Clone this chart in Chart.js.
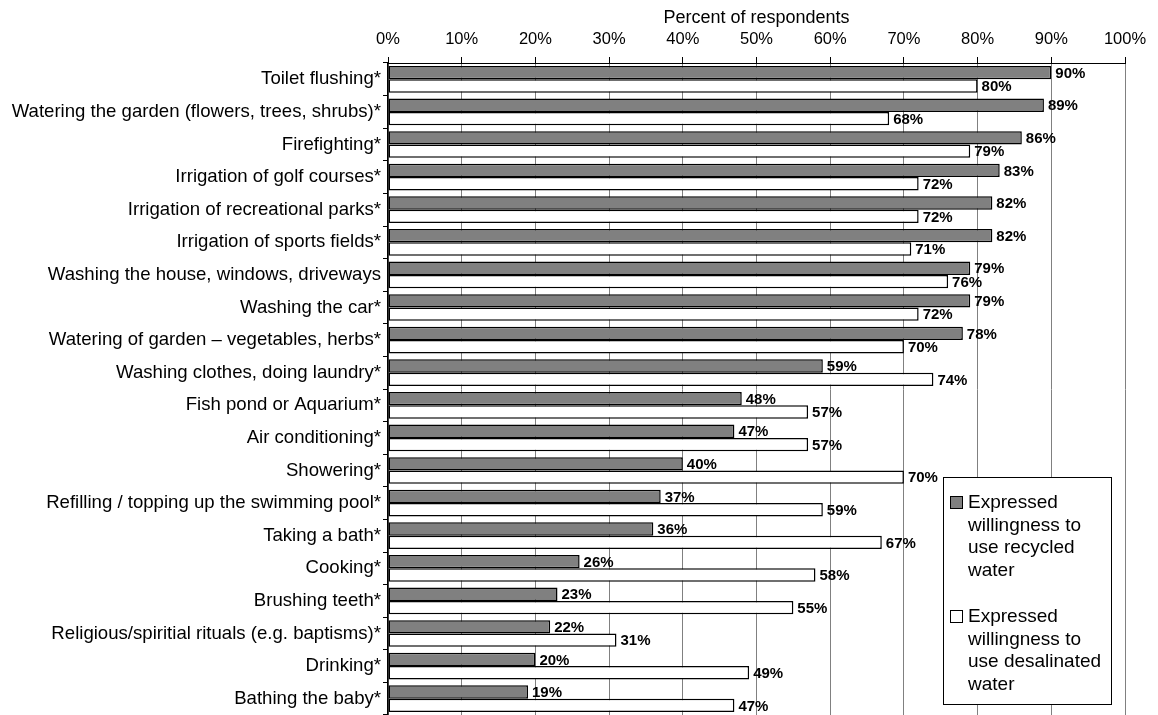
<!DOCTYPE html>
<html>
<head>
<meta charset="utf-8">
<title>Willingness to use recycled and desalinated water</title>
<script src="https://cdn.jsdelivr.net/npm/chart.js@4.4.1/dist/chart.umd.min.js"></script>
<style>
    html, body { margin: 0; padding: 0; background: #fff; }
    #wrap { width: 1158px; height: 715px; }
</style>
</head>
<body>
<div id="wrap"><canvas id="usesChart" width="1158" height="715"></canvas></div>
<script>
// Uses of water, top to bottom
const uses = [
    'Toilet flushing*',
    'Watering the garden (flowers, trees, shrubs)*',
    'Firefighting*',
    'Irrigation of golf courses*',
    'Irrigation of recreational parks*',
    'Irrigation of sports fields*',
    'Washing the house, windows, driveways',
    'Washing the car*',
    'Watering of garden \u2013 vegetables, herbs*',
    'Washing clothes, doing laundry*',
    'Fish pond or Aquarium*',
    'Air conditioning*',
    'Showering*',
    'Refilling / topping up the swimming pool*',
    'Taking a bath*',
    'Cooking*',
    'Brushing teeth*',
    'Religious/spiritial rituals (e.g. baptisms)*',
    'Drinking*',
    'Bathing the baby*'
];

// Percent of respondents willing to use each kind of water
const recycled    = [90, 89, 86, 83, 82, 82, 79, 79, 78, 59, 48, 47, 40, 37, 36, 26, 23, 22, 20, 19];
const desalinated = [80, 68, 79, 72, 72, 71, 76, 72, 70, 74, 57, 57, 70, 59, 67, 58, 55, 31, 49, 47];

const seriesNames = [
    ['Expressed', 'willingness to', 'use recycled', 'water'],
    ['Expressed', 'willingness to', 'use desalinated', 'water']
];

const percentTicks = [0, 10, 20, 30, 40, 50, 60, 70, 80, 90, 100];

const FONT = '"Liberation Sans", Arial, Helvetica, sans-serif';

// Bold value next to the end of every bar
const valueLabels = {
    id: 'valueLabels',
    afterDatasetsDraw(chart) {
        const ctx = chart.ctx;
        ctx.save();
        ctx.font = 'bold 15px ' + FONT;
        ctx.fillStyle = '#000';
        ctx.textAlign = 'left';
        ctx.textBaseline = 'middle';
        chart.data.datasets.forEach((ds, i) => {
            chart.getDatasetMeta(i).data.forEach((bar, j) => {
                ctx.fillText(ds.data[j] + '%', bar.x + 4, bar.y + 1);
            });
        });
        ctx.restore();
    }
};

// Boxed legend sitting inside the plot, lower right
const boxLegend = {
    id: 'boxLegend',
    afterDraw(chart) {
        const ctx = chart.ctx;
        const left = 943, top = 477, w = 168, h = 227;
        ctx.save();
        ctx.fillStyle = '#fff';
        ctx.fillRect(left, top, w, h);
        ctx.strokeStyle = '#000';
        ctx.lineWidth = 1;
        ctx.strokeRect(left + 0.5, top + 0.5, w, h);

        ctx.font = '19px ' + FONT;
        ctx.textAlign = 'left';
        ctx.textBaseline = 'middle';
        const starts = [top + 26, top + 140];
        chart.data.datasets.forEach((ds, i) => {
            const y0 = starts[i];
            ctx.fillStyle = ds.backgroundColor;
            ctx.fillRect(left + 7.5, y0 - 6.5, 12, 12);
            ctx.strokeStyle = '#000';
            ctx.strokeRect(left + 7.5, y0 - 6.5, 12, 12);
            ctx.fillStyle = '#000';
            seriesNames[i].forEach((line, k) => {
                ctx.fillText(line, left + 25, y0 + k * 22.5);
            });
        });
        ctx.restore();
    }
};

const ctx = document.getElementById('usesChart').getContext('2d');
new Chart(ctx, {
    type: 'bar',
    data: {
        labels: uses,
        datasets: [{
            label: seriesNames[0].join(' '),
            data: recycled,
            backgroundColor: '#808080',
            borderColor: '#000',
            borderWidth: 1.5,
            borderSkipped: false,
            categoryPercentage: 0.82,
            barPercentage: 1.0
        }, {
            label: seriesNames[1].join(' '),
            data: desalinated,
            backgroundColor: '#ffffff',
            borderColor: '#000',
            borderWidth: 1.5,
            borderSkipped: false,
            categoryPercentage: 0.82,
            barPercentage: 1.0
        }]
    },
    options: {
        indexAxis: 'y',
        responsive: false,
        animation: false,
        devicePixelRatio: 1,
        layout: { padding: { left: 0, right: 33, top: 0, bottom: 0 } },
        scales: {
            x: {
                position: 'top',
                min: 0,
                max: 100,
                afterBuildTicks(scale) {
                    scale.ticks = percentTicks.map(v => ({ value: v }));
                },
                afterFit(scale) {
                    scale.height = 63;
                    scale.paddingLeft = 0;
                    scale.paddingRight = 0;
                },
                ticks: {
                    callback: v => v + '%',
                    color: '#000',
                    padding: 8,
                    maxRotation: 0,
                    font: { family: FONT, size: 16.5 }
                },
                grid: {
                    color: '#808080',
                    tickColor: '#000',
                    tickLength: 6,
                    lineWidth: 1
                },
                border: { color: '#000', width: 1 },
                title: {
                    display: true,
                    text: 'Percent of respondents',
                    color: '#000',
                    padding: { top: 7, bottom: 0 },
                    font: { family: FONT, size: 18 }
                }
            },
            y: {
                afterFit(scale) {
                    scale.width = 388;
                    scale.paddingTop = 0;
                    scale.paddingBottom = 0;
                },
                ticks: {
                    color: '#000',
                    padding: 2,
                    autoSkip: false,
                    font: { family: FONT, size: 18.6 }
                },
                grid: {
                    drawOnChartArea: false,
                    tickColor: '#000',
                    tickLength: 5
                },
                border: { color: '#000', width: 1.5 }
            }
        },
        plugins: {
            legend: { display: false },
            tooltip: { enabled: false }
        }
    },
    plugins: [valueLabels, boxLegend]
});
</script>
</body>
</html>
